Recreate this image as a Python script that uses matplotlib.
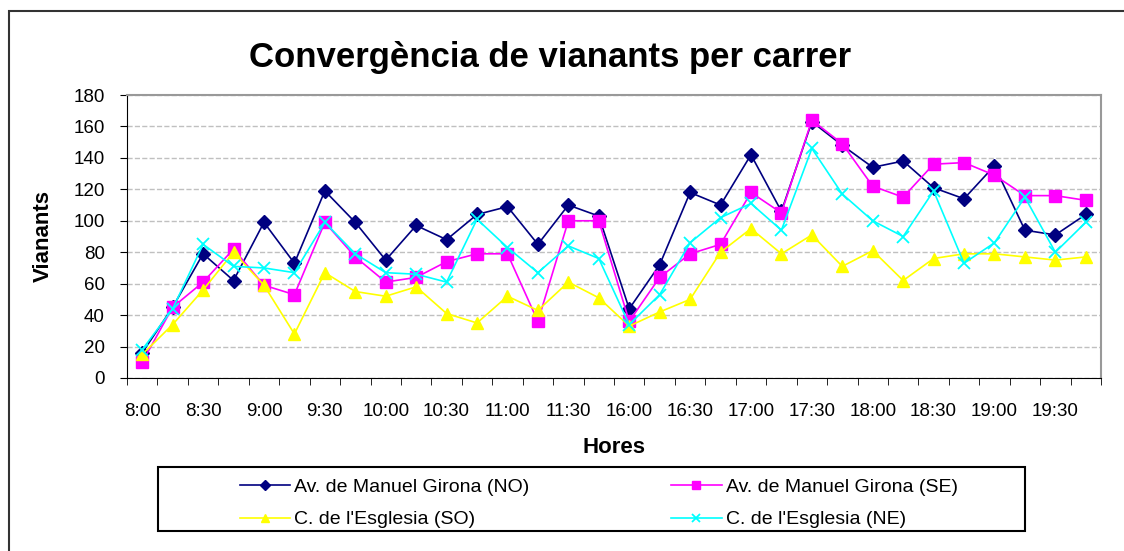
import matplotlib.pyplot as plt
from matplotlib.patches import Rectangle

plt.rcParams['font.family'] = ['Liberation Sans', 'DejaVu Sans']

# Hores de recompte (cada 15 minuts)
hores = ['8:00', '8:15', '8:30', '8:45', '9:00', '9:15', '9:30', '9:45',
         '10:00', '10:15', '10:30', '10:45', '11:00', '11:15', '11:30', '11:45',
         '16:00', '16:15', '16:30', '16:45', '17:00', '17:15', '17:30', '17:45',
         '18:00', '18:15', '18:30', '18:45', '19:00', '19:15', '19:30', '19:45']

# Vianants per carrer
manuel_no = [16, 45, 79, 62, 99, 73, 119, 99, 75, 97, 88, 104, 109, 85, 110, 103,
             44, 72, 118, 110, 142, 106, 163, 148, 134, 138, 121, 114, 135, 94, 91, 104]
manuel_se = [10, 45, 61, 82, 59, 53, 99, 77, 61, 64, 74, 79, 79, 36, 100, 100,
             36, 64, 79, 85, 118, 105, 164, 149, 122, 115, 136, 137, 129, 116, 116, 113]
esglesia_so = [15, 34, 56, 80, 59, 28, 67, 55, 52, 58, 41, 35, 52, 43, 61, 51,
               33, 42, 50, 80, 95, 79, 91, 71, 81, 62, 76, 79, 79, 77, 75, 77]
esglesia_ne = [18, 44, 85, 71, 70, 67, 99, 79, 67, 66, 61, 101, 83, 67, 84, 76,
               34, 53, 86, 102, 111, 94, 146, 117, 100, 90, 119, 73, 86, 115, 80, 99]

W, H = 1124, 551
fig = plt.figure(figsize=(W / 100, H / 100), dpi=100)

# marc del gràfic
fig.patches.append(Rectangle((9 / W, -0.1), 1.2, (H - 11) / H + 0.1, transform=fig.transFigure,
                             fill=False, edgecolor='#333333', linewidth=1.5))

ax = fig.add_axes([127 / W, (H - 378) / H, (1101 - 127) / W, (378 - 95) / H])
x = list(range(len(hores)))

l_no, = ax.plot(x, manuel_no, color='#000080', marker='D', markersize=7, linewidth=1.2,
                label='Av. de Manuel Girona (NO)')
l_se, = ax.plot(x, manuel_se, color='#FF00FF', marker='s', markersize=9, linewidth=1.2,
                label='Av. de Manuel Girona (SE)')
l_so, = ax.plot(x, esglesia_so, color='#FFFF00', marker='^', markersize=9, linewidth=1.2,
                label="C. de l'Esglesia (SO)")
l_ne, = ax.plot(x, esglesia_ne, color='#00FFFF', marker='x', markersize=9, markeredgewidth=1.3,
                linewidth=1.2, label="C. de l'Esglesia (NE)")

ax.set_xlim(-0.5, len(hores) - 0.5)
ax.set_ylim(0, 180)
ax.set_yticks(range(0, 181, 20))
ax.set_xticks(x[::2])
ax.set_xticklabels(hores[::2])
ax.set_xticks([i - 0.5 for i in range(len(hores) + 1)], minor=True)
ax.tick_params(axis='x', which='major', length=0, pad=18, labelsize=13.5)
ax.tick_params(axis='x', which='minor', length=5, direction='out')
ax.tick_params(axis='y', length=5, labelsize=13.5, pad=11)

ax.grid(axis='y', linestyle='--', color='#c0c0c0', linewidth=1)
ax.set_axisbelow(True)
ax.spines['top'].set_color('#999999')
ax.spines['right'].set_color('#999999')
ax.spines['top'].set_linewidth(1.5)
ax.spines['right'].set_linewidth(1.5)

ax.set_ylabel('Vianants', fontsize=16, fontweight='bold', labelpad=14)
ax.set_xlabel('Hores', fontsize=16, fontweight='bold', labelpad=12)

fig.text(550 / W, (H - 58) / H, 'Convergència de vianants per carrer', fontsize=25,
         fontweight='bold', ha='center', va='center')

# llegenda
fig.patches.append(Rectangle((158 / W, (H - 531) / H), (1025 - 158) / W, (531 - 467) / H,
                             transform=fig.transFigure, fill=False, edgecolor='black',
                             linewidth=1.5))
fig.legend([l_no, l_so, l_se, l_ne], [l.get_label() for l in (l_no, l_so, l_se, l_ne)],
           loc='upper left', bbox_to_anchor=(222 / W, (H - 461) / H), ncol=2,
           frameon=False, fontsize=14, handlelength=2.6, handletextpad=0.2,
           columnspacing=7.3, labelspacing=0.75, markerscale=0.7)

fig.savefig('out.png', dpi=100)
